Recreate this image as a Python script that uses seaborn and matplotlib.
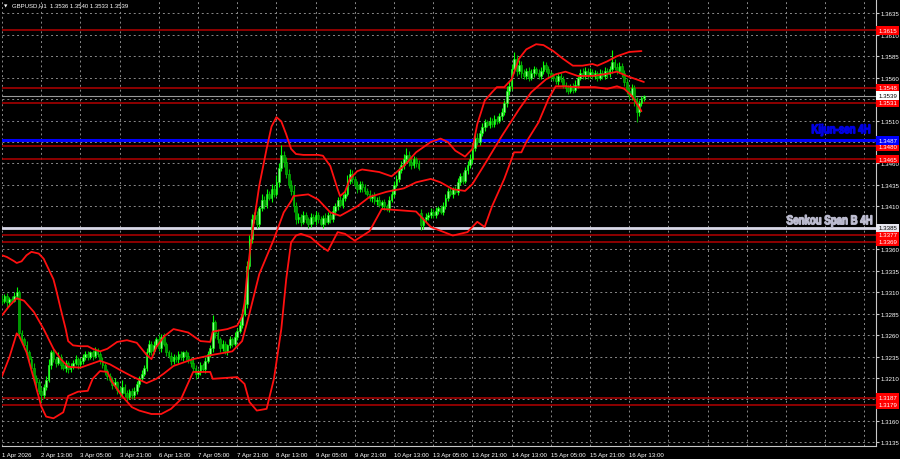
import matplotlib
matplotlib.use("Agg")
import matplotlib.pyplot as plt
import matplotlib.transforms as mtransforms
from matplotlib.textpath import TextPath
from matplotlib.patches import PathPatch
from matplotlib.font_manager import FontProperties
import pandas as pd
import seaborn as sns

# hourly bars, first bar = 1 Apr 21:00, one time label every 16 bars
time_labels = ["1 Apr 2026", "2 Apr 13:00", "3 Apr 05:00", "3 Apr 21:00", "6 Apr 13:00",
               "7 Apr 05:00", "7 Apr 21:00", "8 Apr 13:00", "9 Apr 05:00", "9 Apr 21:00",
               "10 Apr 13:00", "13 Apr 05:00", "13 Apr 21:00", "14 Apr 13:00", "15 Apr 05:00",
               "15 Apr 21:00", "16 Apr 13:00"]
label_step = 16

closes = [
    1.3300, 1.3305, 1.3298, 1.3302, 1.3300, 1.3306, 1.3310, 1.3262, 1.3255, 1.3248,
    1.3240, 1.3232, 1.3222, 1.3210, 1.3205, 1.3195, 1.3190, 1.3200, 1.3208, 1.3225,
    1.3240, 1.3232, 1.3228, 1.3235, 1.3225, 1.3222, 1.3228, 1.3220, 1.3224, 1.3228,
    1.3232, 1.3226, 1.3230, 1.3234, 1.3238, 1.3235, 1.3240, 1.3236, 1.3242, 1.3238,
    1.3230, 1.3225, 1.3218, 1.3212, 1.3208, 1.3202, 1.3205, 1.3196, 1.3192, 1.3200,
    1.3192, 1.3188, 1.3195, 1.3190, 1.3195, 1.3203, 1.3210, 1.3215, 1.3222, 1.3240,
    1.3250, 1.3242, 1.3248, 1.3255, 1.3245, 1.3258, 1.3250, 1.3240, 1.3236, 1.3230,
    1.3235, 1.3232, 1.3238, 1.3234, 1.3240, 1.3236, 1.3232, 1.3228, 1.3222, 1.3215,
    1.3218, 1.3225, 1.3220, 1.3230, 1.3238, 1.3245, 1.3275, 1.3262, 1.3255, 1.3245,
    1.3250, 1.3242, 1.3248, 1.3255, 1.3250, 1.3258, 1.3265, 1.3272, 1.3285, 1.3296,
    1.3340, 1.3372, 1.3395, 1.3400, 1.3390, 1.3408, 1.3418, 1.3412, 1.3425, 1.3420,
    1.3430, 1.3425, 1.3438, 1.3455, 1.3470, 1.3462, 1.3448, 1.3435, 1.3428, 1.3410,
    1.3395, 1.3398, 1.3392, 1.3400, 1.3395, 1.3390, 1.3398, 1.3393, 1.3400, 1.3395,
    1.3390, 1.3397, 1.3392, 1.3400, 1.3395, 1.3405, 1.3410, 1.3418, 1.3412, 1.3420,
    1.3425, 1.3440, 1.3448, 1.3442, 1.3435, 1.3430, 1.3436, 1.3432, 1.3428, 1.3425,
    1.3420, 1.3422, 1.3416, 1.3418, 1.3412, 1.3415, 1.3410, 1.3408, 1.3418, 1.3425,
    1.3435, 1.3442, 1.3452, 1.3458, 1.3465, 1.3470, 1.3462, 1.3458, 1.3465, 1.3460,
    1.3455, 1.3388, 1.3395, 1.3398, 1.3400, 1.3404, 1.3400, 1.3405, 1.3408, 1.3404,
    1.3410, 1.3420, 1.3428, 1.3425, 1.3430, 1.3427, 1.3438, 1.3445, 1.3440, 1.3452,
    1.3458, 1.3465, 1.3478, 1.3490, 1.3485, 1.3495, 1.3502, 1.3508, 1.3505, 1.3510,
    1.3506, 1.3512, 1.3510, 1.3515, 1.3520, 1.3530, 1.3545, 1.3550, 1.3570, 1.3582,
    1.3568, 1.3575, 1.3565, 1.3562, 1.3568, 1.3560, 1.3565, 1.3570, 1.3566, 1.3562,
    1.3568, 1.3575, 1.3570, 1.3565, 1.3562, 1.3560, 1.3556, 1.3562, 1.3558, 1.3552,
    1.3548, 1.3545, 1.3550, 1.3546, 1.3552, 1.3560, 1.3566, 1.3562, 1.3568, 1.3563,
    1.3567, 1.3562, 1.3565, 1.3560, 1.3566, 1.3562, 1.3568, 1.3564, 1.3570, 1.3578,
    1.3572, 1.3568, 1.3574, 1.3565, 1.3555, 1.3545, 1.3540, 1.3548, 1.3535, 1.3520,
    1.3530, 1.3536, 1.3539,
]
first_open = 1.3302
gap_opens = {171: 1.3402}  # Monday 13 Apr opening gap

# wick lengths beyond the body, in pips
wick_up = [
    5, 3, 4, 2, 3, 4, 6, 3, 4, 3, 5, 3, 4, 6, 3, 4, 5, 3, 4, 7,
    3, 4, 2, 5, 3, 4, 3, 2, 4, 3, 5, 2, 3, 4, 3, 4, 2, 3, 4, 3,
    3, 4, 2, 3, 4, 3, 5, 2, 3, 8, 3, 4, 2, 3, 4, 3, 2, 4, 3, 5,
    4, 3, 5, 3, 6, 3, 4, 2, 3, 4, 3, 2, 3, 4, 2, 3, 4, 3, 5, 3,
    3, 4, 2, 5, 3, 4, 8, 3, 5, 3, 4, 3, 2, 4, 3, 5, 3, 4, 5, 6,
    6, 5, 6, 4, 5, 3, 6, 4, 5, 3, 6, 5, 8, 6, 12, 5, 6, 5, 6, 7,
    5, 4, 3, 5, 4, 3, 4, 3, 5, 3, 4, 3, 5, 4, 3, 5, 4, 3, 4, 5,
    4, 6, 5, 4, 3, 5, 4, 3, 4, 3, 4, 3, 5, 3, 4, 3, 4, 3, 4, 5,
    4, 5, 4, 5, 6, 8, 4, 5, 4, 3, 4, 5, 3, 4, 3, 4, 3, 4, 3, 4,
    5, 4, 3, 4, 3, 4, 5, 4, 5, 4, 5, 6, 5, 4, 5, 4, 5, 4, 3, 4,
    3, 4, 3, 4, 5, 4, 5, 6, 6, 8, 5, 6, 4, 5, 3, 4, 5, 4, 3, 4,
    5, 4, 3, 4, 3, 4, 3, 4, 3, 4, 3, 4, 3, 4, 5, 3, 4, 5, 4, 3,
    4, 3, 4, 3, 4, 3, 4, 3, 4, 14, 4, 5, 4, 3, 4, 5, 4, 5, 4, 3,
    4, 3, 1,
]
wick_dn = [
    4, 3, 5, 4, 3, 2, 4, 6, 5, 4, 3, 5, 4, 3, 5, 4, 8, 3, 4, 3,
    4, 3, 5, 3, 4, 3, 5, 4, 3, 4, 3, 5, 3, 4, 3, 4, 3, 5, 3, 4,
    4, 3, 5, 4, 3, 5, 4, 5, 4, 3, 4, 5, 3, 4, 3, 4, 3, 4, 3, 4,
    3, 5, 4, 3, 4, 5, 3, 4, 3, 5, 4, 3, 4, 3, 4, 5, 4, 5, 4, 6,
    4, 5, 3, 4, 3, 4, 5, 6, 4, 5, 3, 4, 5, 3, 4, 3, 4, 3, 4, 3,
    4, 3, 5, 4, 5, 4, 3, 5, 4, 3, 5, 4, 3, 5, 4, 6, 5, 4, 5, 6,
    5, 4, 5, 3, 4, 5, 4, 3, 5, 4, 3, 5, 4, 3, 4, 3, 5, 4, 3, 4,
    4, 3, 4, 5, 3, 4, 3, 5, 4, 3, 4, 5, 3, 4, 3, 5, 4, 3, 4, 3,
    4, 3, 4, 3, 4, 3, 5, 4, 3, 4, 3, 5, 4, 3, 4, 3, 4, 3, 4, 3,
    4, 3, 4, 3, 5, 3, 4, 3, 4, 3, 4, 3, 5, 4, 3, 4, 3, 4, 3, 4,
    4, 3, 4, 3, 4, 3, 4, 5, 4, 5, 6, 4, 5, 4, 3, 4, 3, 4, 3, 4,
    3, 4, 3, 4, 5, 4, 3, 4, 3, 4, 5, 4, 3, 4, 3, 4, 3, 4, 3, 4,
    3, 4, 3, 4, 3, 4, 3, 4, 3, 4, 3, 4, 3, 4, 5, 4, 5, 6, 8, 12,
    5, 3, 3,
]

# Bollinger bands (bar index, price)
upper_bars = [0, 2, 5, 6, 8, 10, 12, 15, 17, 19, 21, 22, 24, 26, 27, 29, 32, 35, 37, 40,
              43, 47, 51, 55, 59, 61, 63, 66, 70, 76, 81, 85, 86, 92, 96, 98, 99, 100, 102, 105,
              108, 110, 112, 114, 116, 118, 120, 123, 129, 131, 134, 137, 138, 140, 142, 145, 147, 154, 159, 164,
              169, 175, 179, 182, 185, 189, 192, 194, 197, 200, 202, 205, 208, 211, 214, 218, 221, 225, 229, 233,
              237, 241, 243, 247, 251, 256, 261]
upper_vals = [1.3353, 1.3351, 1.3346, 1.3344, 1.3346, 1.3353, 1.3357, 1.3355, 1.3349, 1.3337,
              1.3325, 1.3314, 1.3290, 1.3267, 1.3253, 1.3248, 1.3247, 1.3247, 1.3244, 1.3241,
              1.3244, 1.3252, 1.3254, 1.3251, 1.3237, 1.3232, 1.3246, 1.3258, 1.3267, 1.3263,
              1.3253, 1.3252, 1.3264, 1.3267, 1.3271, 1.3282, 1.3298, 1.3329, 1.3376, 1.3434,
              1.3477, 1.3503, 1.3514, 1.3509, 1.3494, 1.3477, 1.3471, 1.3470, 1.3470, 1.3469,
              1.3457, 1.3430, 1.3422, 1.3427, 1.3442, 1.3451, 1.3453, 1.3450, 1.3445, 1.3457,
              1.3473, 1.3485, 1.3489, 1.3485, 1.3475, 1.3468, 1.3477, 1.3506, 1.3533, 1.3543,
              1.3549, 1.3549, 1.3558, 1.3582, 1.3593, 1.3599, 1.3598, 1.3591, 1.3582, 1.3574,
              1.3574, 1.3576, 1.3574, 1.3579, 1.3585, 1.3590, 1.3591]

middle_bars = [0, 3, 6, 9, 13, 17, 21, 24, 27, 32, 36, 40, 44, 49, 53, 59, 63, 66, 70, 78,
               86, 94, 98, 101, 105, 111, 115, 118, 119, 125, 129, 134, 138, 145, 150, 157, 164, 169, 175, 179,
               184, 189, 192, 197, 204, 211, 216, 222, 226, 230, 235, 241, 246, 251, 255, 262]
middle_vals = [1.3283, 1.3294, 1.3303, 1.3300, 1.3287, 1.3267, 1.3244, 1.3232, 1.3223, 1.3222,
               1.3226, 1.3230, 1.3226, 1.3218, 1.3212, 1.3204, 1.3209, 1.3215, 1.3224, 1.3232,
               1.3237, 1.3241, 1.3253, 1.3285, 1.3331, 1.3372, 1.3403, 1.3416, 1.3422, 1.3424,
               1.3418, 1.3403, 1.3399, 1.3410, 1.3421, 1.3427, 1.3431, 1.3438, 1.3442, 1.3438,
               1.3430, 1.3428, 1.3436, 1.3459, 1.3492, 1.3523, 1.3543, 1.3558, 1.3564, 1.3567,
               1.3562, 1.3562, 1.3564, 1.3567, 1.3562, 1.3555]

lower_bars = [0, 3, 6, 7, 10, 13, 16, 18, 21, 25, 27, 31, 35, 37, 40, 43, 45, 49, 53, 56,
              61, 65, 69, 73, 78, 85, 86, 96, 99, 101, 104, 108, 111, 114, 116, 118, 120, 122, 126, 130,
              133, 137, 140, 144, 150, 155, 169, 175, 184, 190, 194, 197, 200, 205, 209, 212, 214, 219, 223, 226,
              230, 234, 242, 247, 251, 254, 257, 261]
lower_vals = [1.3212, 1.3234, 1.3262, 1.3259, 1.3240, 1.3209, 1.3177, 1.3165, 1.3163, 1.3170,
              1.3189, 1.3194, 1.3195, 1.3209, 1.3218, 1.3217, 1.3205, 1.3189, 1.3176, 1.3172,
              1.3168, 1.3168, 1.3174, 1.3185, 1.3217, 1.3217, 1.3209, 1.3211, 1.3203, 1.3182,
              1.3172, 1.3174, 1.3209, 1.3267, 1.3325, 1.3368, 1.3376, 1.3378, 1.3374, 1.3364,
              1.3358, 1.3380, 1.3378, 1.3370, 1.3381, 1.3407, 1.3404, 1.3386, 1.3376, 1.3380,
              1.3392, 1.3386, 1.3410, 1.3442, 1.3473, 1.3473, 1.3485, 1.3508, 1.3535, 1.3550,
              1.3550, 1.3549, 1.3549, 1.3547, 1.3550, 1.3547, 1.3539, 1.3521]

red_levels = [1.3615, 1.3548, 1.3531, 1.3480, 1.3465, 1.3377, 1.3369, 1.3187, 1.3179]
kijun_level = 1.3487
senkou_level = 1.3385
last_price = 1.3539
title = "GBPUSD,H1  1.3536 1.3540 1.3533 1.3539"

# ---- build OHLC
pip = 0.0001
opens = [first_open] + closes[:-1]
for i, v in gap_opens.items():
    opens[i] = v
df = pd.DataFrame({"open": opens, "close": closes})
df["bar"] = range(len(df))
df["top"] = df[["open", "close"]].max(axis=1)
df["bot"] = df[["open", "close"]].min(axis=1)
df["high"] = df["top"] + pd.Series(wick_up) * pip
df["low"] = df["bot"] - pd.Series(wick_dn) * pip
df["bull"] = df["close"] >= df["open"]

sns.set_style("dark")
plt.rcParams.update({"axes.facecolor": "black", "figure.facecolor": "black",
                     "savefig.facecolor": "black"})
plt.rcParams['font.family'] = ['Liberation Sans', 'DejaVu Sans']

W, H = 900, 460
fig = plt.figure(figsize=(W / 100, H / 100), dpi=100)
ax = fig.add_axes([2 / W, 13 / H, 874 / W, 447 / H])
ax.set_facecolor("black")

x_max = 874 / 2.45
ax.set_xlim(0, x_max)
ax.set_ylim(1.31307, 1.36517)

# grid
grid_kw = dict(color="#8a8a8a", lw=0.7, ls=(0, (2, 3)), zorder=0)
xt = list(range(0, int(x_max) + 1, label_step))
for x in xt:
    ax.axvline(x, **grid_kw)
yt = [round(1.3135 + 0.0025 * k, 4) for k in range(21)]
for y in yt:
    ax.axhline(y, **grid_kw)

# horizontal levels
for lv in red_levels:
    ax.axhline(lv, color="#b40000", lw=1.1, zorder=1)
ax.axhline(kijun_level, color="#0000ff", lw=2.2, zorder=1)
ax.axhline(senkou_level, color="#d8d8e8", lw=2.0, zorder=1)
ax.axhline(last_price, color="#9a9a9a", lw=0.8, zorder=1)

# candles
bull = df[df["bull"]]
bear = df[~df["bull"]]
ax.vlines(bull["bar"], bull["low"], bull["high"], color="#00ff00", lw=0.8, zorder=3)
ax.vlines(bear["bar"], bear["low"], bear["high"], color="#00b000", lw=0.8, zorder=3)
ax.bar(bull["bar"], (bull["top"] - bull["bot"]).clip(lower=pip * 0.4), bottom=bull["bot"],
       width=0.7, color="#8cff8c", edgecolor="#00ff00", lw=0.4, zorder=4)
ax.bar(bear["bar"], (bear["top"] - bear["bot"]).clip(lower=pip * 0.4), bottom=bear["bot"],
       width=0.7, color="#009600", edgecolor="#00c800", lw=0.4, zorder=4)

# Bollinger bands
for bars, vals in [(upper_bars, upper_vals), (middle_bars, middle_vals), (lower_bars, lower_vals)]:
    sns.lineplot(x=bars, y=vals, ax=ax, color="#ff1010", lw=1.3, zorder=5)

# axes styling
for s in ["top", "left"]:
    ax.spines[s].set_visible(False)
for s in ["bottom", "right"]:
    ax.spines[s].set_color("#c8c8c8")
    ax.spines[s].set_linewidth(0.8)
ax.set_xticks(xt[:len(time_labels)])
ax.set_xticklabels(time_labels, fontsize=4.4, color="white", ha="left")
ax.yaxis.tick_right()
ax.set_yticks(yt)
ax.set_yticklabels([f"{v:.4f}" for v in yt], fontsize=4.4, color="white")
ax.tick_params(axis="x", length=3, color="#c8c8c8", pad=1.5)
ax.tick_params(axis="y", length=2, color="#c8c8c8", pad=1.5)
ax.set_xlabel("")
ax.set_ylabel("")

# price tags on the right scale
trans = mtransforms.blended_transform_factory(ax.transAxes, ax.transData)
tag = dict(transform=trans, fontsize=4.4, va="center", ha="left", clip_on=False, zorder=10)
box = "square,pad=0.28"
for lv in red_levels:
    ax.text(1.0025, lv, f"{lv:.4f}", color="white", bbox=dict(boxstyle=box, fc="#ff0000", ec="none"), **tag)
ax.text(1.0025, kijun_level, f"{kijun_level:.4f}", color="white",
        bbox=dict(boxstyle=box, fc="#0000ff", ec="none"), **tag)
ax.text(1.0025, senkou_level, f"{senkou_level:.4f}", color="black",
        bbox=dict(boxstyle=box, fc="#e8e8f0", ec="none"), **tag)
ax.text(1.0025, last_price, f"{last_price:.4f}", color="black",
        bbox=dict(boxstyle=box, fc="white", ec="none"), **tag)


def boxed_label(s, x0, x1, ytop, ybot, color, edge):
    # bold label stretched into a pixel box (left, right, top, bottom from the top-left corner)
    tp = TextPath((0, 0), s, size=10, prop=FontProperties(family="Liberation Sans", weight="bold"))
    bb = tp.get_extents()
    tr = (mtransforms.Affine2D().translate(-bb.x0, -bb.y0)
          .scale((x1 - x0) / bb.width, (ybot - ytop) / bb.height).translate(x0, H - ybot))
    fig.add_artist(PathPatch(tr.transform_path(tp), fc=color, ec=edge, lw=0.9,
                             transform=mtransforms.IdentityTransform(), zorder=12))


boxed_label("Kijun-sen 4H", 812, 870, 125, 137, "#0000ff", "#0000e0")
boxed_label("Senkou Span B 4H", 787, 872, 216, 228, "#e6e6f6", "#b8b8cc")

fig.text(4 / W, 1 - 6 / H, "\u25bc", color="white", fontsize=3.2, va="center",
         family=["DejaVu Sans"])
fig.text(12 / W, 1 - 6 / H, title, color="white", fontsize=4.3, va="center")

fig.savefig("out.png", dpi=100, facecolor="black")
